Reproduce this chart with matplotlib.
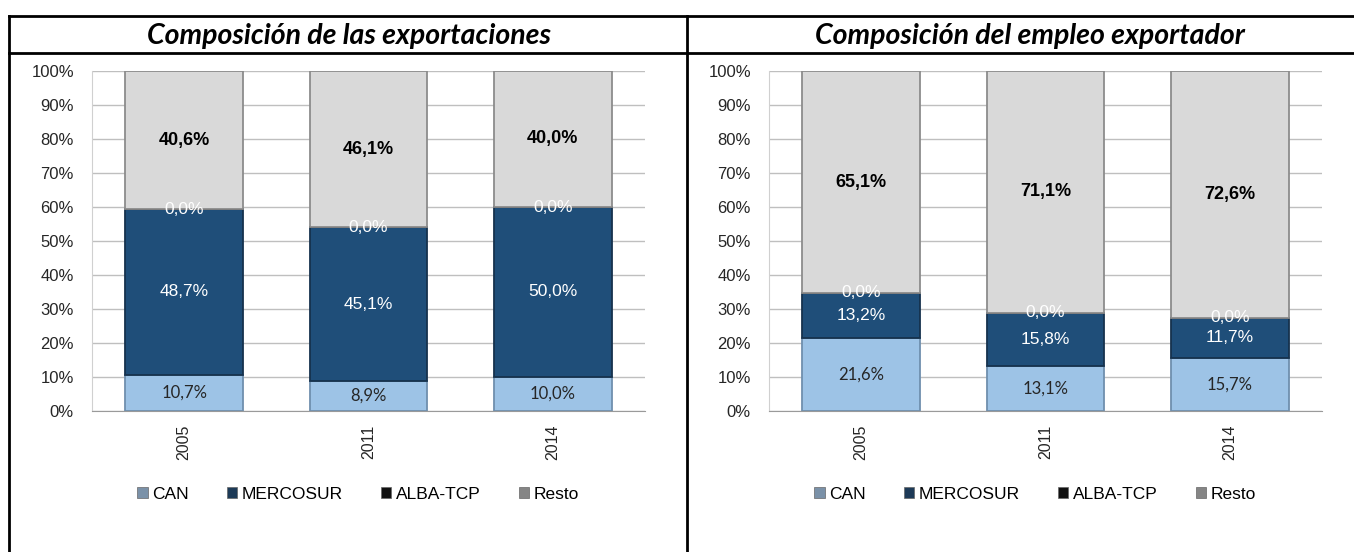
import matplotlib.pyplot as plt
from matplotlib.lines import Line2D
from matplotlib.patches import Patch
import numpy as np

years = ['2005', '2011', '2014']
series = ['CAN', 'MERCOSUR', 'ALBA-TCP', 'Resto']

# Composición de las exportaciones (%)
exp_can = [10.7, 8.9, 10.0]
exp_mercosur = [48.7, 45.1, 50.0]
exp_alba = [0.0, 0.0, 0.0]
exp_resto = [40.6, 46.1, 40.0]

# Composición del empleo exportador (%)
emp_can = [21.6, 13.1, 15.7]
emp_mercosur = [13.2, 15.8, 11.7]
emp_alba = [0.0, 0.0, 0.0]
emp_resto = [65.1, 71.1, 72.6]

W, H = 1354, 552
SANS = ['Liberation Sans', 'DejaVu Sans']

fill = {'CAN': '#9dc3e6', 'MERCOSUR': '#1f4e79', 'ALBA-TCP': '#000000', 'Resto': '#d9d9d9'}
edge = {'CAN': '#6f8fae', 'MERCOSUR': '#16324d', 'ALBA-TCP': '#000000', 'Resto': '#8c8c8c'}
legend_col = {'CAN': '#7a91a8', 'MERCOSUR': '#1d3a57', 'ALBA-TCP': '#111111', 'Resto': '#858585'}


def px(x0, y0, w, h):
    # pixel box (top-left origin) -> figure fraction rect
    return [x0 / W, 1 - (y0 + h) / H, w / W, h / H]


def panel(ax, can, mercosur, alba, resto):
    x = np.arange(len(years))
    bottom = np.zeros(len(years))
    for name, vals in zip(series, [can, mercosur, alba, resto]):
        vals = np.array(vals)
        ax.bar(x, vals, 0.64, bottom=bottom, color=fill[name], edgecolor=edge[name],
               linewidth=1.3, zorder=3)
        for xi, b, v in zip(x, bottom, vals):
            lab = f'{v:.1f}%'.replace('.', ',')
            yc = b + v / 2
            if name == 'CAN':
                ax.text(xi, yc, lab, ha='center', va='center', fontsize=12,
                        family='Lato', color='#262626', zorder=5)
            elif name == 'Resto':
                ax.text(xi, yc, lab, ha='center', va='center', fontsize=13,
                        family=SANS, weight='bold', color='black', zorder=5)
            else:
                ax.text(xi, yc, lab, ha='center', va='center', fontsize=12.5,
                        family=SANS, color='white', zorder=5)
        bottom = bottom + vals

    ax.set_xlim(-0.5, 2.5)
    ax.set_ylim(0, 100)
    ax.set_yticks(np.arange(0, 101, 10))
    ax.set_yticklabels([f'{v}%' for v in range(0, 101, 10)], family=SANS,
                       fontsize=12, color='#262626')
    ax.set_xticks(x)
    ax.set_xticklabels(years, rotation=90, family=SANS, fontsize=11.5, color='#262626')
    ax.tick_params(axis='y', length=0, pad=13)
    ax.tick_params(axis='x', length=0, pad=10)
    ax.grid(axis='y', color='#bfbfbf', linewidth=1, zorder=0)
    for s in ('top', 'right'):
        ax.spines[s].set_visible(False)
    ax.spines['left'].set_color('#d0d0d0')
    ax.spines['bottom'].set_color('#9a9a9a')
    ax.spines['bottom'].set_zorder(4)

    handles = [Patch(facecolor=legend_col[n], edgecolor='#666666', linewidth=0.5) for n in series]
    ax.legend(handles, series, loc='center', bbox_to_anchor=(0.481, -0.245), ncol=4,
              frameon=False, handlelength=0.6, handleheight=0.6, handletextpad=0.25,
              columnspacing=2.2, prop={'family': SANS, 'size': 12.5})


fig = plt.figure(figsize=(W / 100, H / 100), dpi=100)

ax1 = fig.add_axes(px(92, 71, 553, 340))
panel(ax1, exp_can, exp_mercosur, exp_alba, exp_resto)
ax2 = fig.add_axes(px(769, 71, 553, 340))
panel(ax2, emp_can, emp_mercosur, emp_alba, emp_resto)

# frame of the table around the two charts
lw = 2
for (xa, ya, xb, yb) in [(9, 16, W, 16), (9, 53, W, 53), (9, 16, 9, H), (687, 16, 687, H)]:
    fig.add_artist(Line2D([xa / W, xb / W], [1 - ya / H, 1 - yb / H], color='black',
                          linewidth=lw, transform=fig.transFigure))

fig.text(349 / W, 1 - 36 / H, 'Composición de las exportaciones', ha='center', va='center',
         family='Lato', style='italic', weight='bold', fontsize=20.5)
fig.text(1030 / W, 1 - 36 / H, 'Composición del empleo exportador', ha='center', va='center',
         family='Lato', style='italic', weight='bold', fontsize=20.5)

fig.savefig('out.png', dpi=100)
